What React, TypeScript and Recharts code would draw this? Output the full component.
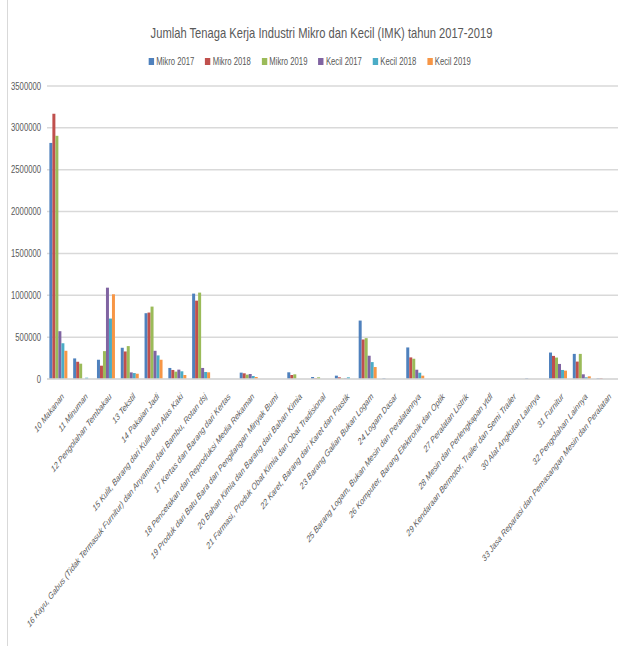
import React from "react";
import {
  BarChart,
  Bar,
  XAxis,
  YAxis,
  CartesianGrid,
} from "recharts";

const categories = [
  "10 Makanan",
  "11 Minuman",
  "12 Pengolahan Tembakau",
  "13 Tekstil",
  "14 Pakaian Jadi",
  "15 Kulit, Barang dari Kulit dan Alas Kaki",
  "16 Kayu, Gabus (Tidak Termasuk Furnitur) dan Anyaman dari Bambu, Rotan dsj",
  "17 Kertas dan Barang dari Kertas",
  "18 Pencetakan dan Reproduksi Media Rekaman",
  "19 Produk dari Batu Bara dan Pengilangan Minyak Bumi",
  "20 Bahan Kimia dan Barang dari Bahan Kimia",
  "21 Farmasi, Produk Obat Kimia dan Obat Tradisional",
  "22 Karet, Barang dari Karet dan Plastik",
  "23 Barang Galian Bukan Logam",
  "24 Logam Dasar",
  "25 Barang Logam, Bukan Mesin dan Peralatannya",
  "26 Komputer, Barang Elektronik dan Optik",
  "27 Peralatan Listrik",
  "28 Mesin dan Perlengkapan ytdl",
  "29 Kendaraan Bermotor, Trailer dan Semi Trailer",
  "30 Alat Angkutan Lainnya",
  "31 Furnitur",
  "32 Pengolahan Lainnya",
  "33 Jasa Reparasi dan Pemasangan Mesin dan Peralatan",
];

const mikro2017 = [2820000, 246000, 230000, 373000, 786000, 132000, 1020000, 0, 76000, 0, 80000, 24000, 40000, 698000, 8000, 377000, 0, 0, 0, 0, 8000, 316000, 300000, 8000];
const mikro2018 = [3170000, 206000, 159000, 329000, 794000, 108000, 936000, 0, 68000, 0, 48000, 8000, 20000, 472000, 0, 258000, 0, 0, 0, 0, 0, 276000, 208000, 8000];
const mikro2019 = [2905000, 183000, 333000, 393000, 865000, 88000, 1032000, 0, 52000, 0, 56000, 20000, 8000, 488000, 0, 242000, 0, 0, 0, 0, 0, 256000, 300000, 0];
const kecil2017 = [571000, 0, 1091000, 79000, 337000, 112000, 132000, 0, 60000, 0, 0, 0, 8000, 278000, 0, 111000, 0, 0, 0, 0, 0, 180000, 56000, 0];
const kecil2018 = [428000, 16000, 722000, 71000, 282000, 92000, 84000, 0, 36000, 0, 0, 0, 20000, 202000, 0, 75000, 0, 0, 0, 0, 0, 108000, 20000, 0];
const kecil2019 = [337000, 0, 1012000, 63000, 230000, 48000, 80000, 0, 24000, 0, 0, 0, 0, 143000, 0, 40000, 0, 0, 0, 0, 0, 100000, 32000, 0];

const yTicks = [0, 500000, 1000000, 1500000, 2000000, 2500000, 3000000, 3500000];

const series = [
  { key: "m17", name: "Mikro 2017", values: mikro2017, color: "#4F81BD" },
  { key: "m18", name: "Mikro 2018", values: mikro2018, color: "#C0504D" },
  { key: "m19", name: "Mikro 2019", values: mikro2019, color: "#9BBB59" },
  { key: "k17", name: "Kecil 2017", values: kecil2017, color: "#8064A2" },
  { key: "k18", name: "Kecil 2018", values: kecil2018, color: "#4BACC6" },
  { key: "k19", name: "Kecil 2019", values: kecil2019, color: "#F79646" },
];

const data = categories.map((name, i) => {
  const row: Record<string, string | number> = { name };
  series.forEach((s) => {
    row[s.key] = s.values[i];
  });
  return row;
});

// the source picture is squeezed sideways, so text is squeezed the same way
const SQUEEZE = 0.77;
const FONT = "'Liberation Sans', Arial, sans-serif";
const TEXT = "#595959";

function CategoryTick(props: any) {
  const { x, y, payload } = props;
  return (
    <g transform={`translate(${x + 4},${y + 8}) scale(${SQUEEZE},1) rotate(-45)`}>
      <text
        x={0}
        y={0}
        dy={3}
        textAnchor="end"
        fill={TEXT}
        fontSize={9.2}
        fontStyle="italic"
        fontFamily={FONT}
      >
        {payload.value}
      </text>
    </g>
  );
}

function ValueTick(props: any) {
  const { x, y, payload } = props;
  return (
    <g transform={`translate(${x + 2},${y}) scale(${SQUEEZE},1)`}>
      <text
        x={0}
        y={0}
        dy={3.5}
        textAnchor="end"
        fill={TEXT}
        fontSize={10}
        fontFamily={FONT}
      >
        {payload.value}
      </text>
    </g>
  );
}

export default function App() {
  return (
    <div
      style={{
        position: "absolute",
        left: 0,
        top: 0,
        width: 623,
        height: 646,
        background: "#fff",
      }}
    >
      <div
        style={{
          position: "absolute",
          left: 7,
          top: 0,
          width: 1,
          height: 646,
          background: "#d9d9d9",
        }}
      />
      <div
        style={{
          position: "absolute",
          top: 25,
          left: 0,
          width: 643,
          textAlign: "center",
          fontFamily: FONT,
          fontSize: 14.5,
          color: TEXT,
          transform: `scaleX(${SQUEEZE})`,
          whiteSpace: "nowrap",
        }}
      >
        Jumlah Tenaga Kerja Industri Mikro dan Kecil (IMK) tahun 2017-2019
      </div>
      <div
        style={{
          position: "absolute",
          top: 56,
          left: 4,
          width: 622,
          display: "flex",
          justifyContent: "center",
          fontFamily: FONT,
          fontSize: 10,
          color: TEXT,
          transform: `scaleX(${SQUEEZE})`,
          whiteSpace: "nowrap",
        }}
      >
        {series.map((s) => (
          <span
            key={s.key}
            style={{ display: "inline-flex", alignItems: "center", marginRight: 14 }}
          >
            <span
              style={{
                width: 7,
                height: 7,
                background: s.color,
                display: "inline-block",
                marginRight: 3,
              }}
            />
            {s.name}
          </span>
        ))}
      </div>
      <BarChart
        width={622}
        height={646}
        data={data}
        margin={{ top: 86, right: 4, bottom: 0, left: 0 }}
        barCategoryGap="10%"
        barGap={0}
        style={{ position: "absolute", left: 0, top: 0 }}
      >
        <CartesianGrid vertical={false} stroke="#d9d9d9" strokeWidth={1.5} />
        <XAxis
          dataKey="name"
          interval={0}
          height={267}
          tick={<CategoryTick />}
          tickLine={false}
          axisLine={{ stroke: "#d9d9d9", strokeWidth: 1.5 }}
        />
        <YAxis
          domain={[0, 3500000]}
          ticks={yTicks}
          interval={0}
          width={47}
          tickLine={false}
          axisLine={false}
          tick={<ValueTick />}
        />
        {series.map((s) => (
          <Bar
            key={s.key}
            dataKey={s.key}
            name={s.name}
            fill={s.color}
            isAnimationActive={false}
          />
        ))}
      </BarChart>
    </div>
  );
}
